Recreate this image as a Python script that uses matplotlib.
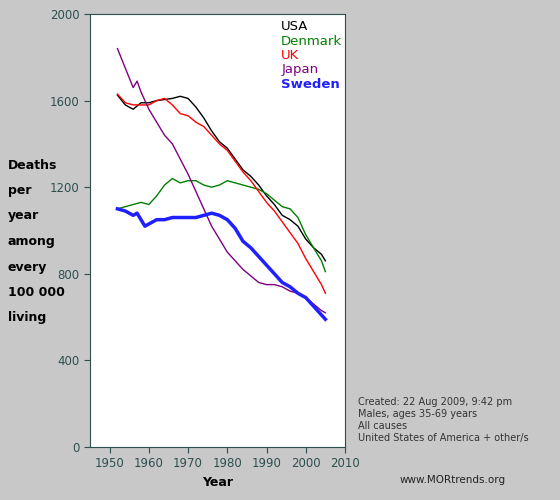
import matplotlib
matplotlib.use("Agg")
import matplotlib.pyplot as plt

years_a = [1952, 1954, 1956, 1958, 1960, 1962, 1964, 1966, 1968, 1970, 1972, 1974, 1976, 1978,
           1980, 1982, 1984, 1986, 1988, 1990, 1992, 1994, 1996, 1998, 2000, 2002, 2004, 2005]
usa = [1625, 1580, 1560, 1590, 1590, 1600, 1605, 1610, 1620, 1610, 1570, 1520, 1460, 1410,
       1380, 1330, 1280, 1250, 1210, 1160, 1120, 1070, 1050, 1020, 960, 920, 890, 860]
uk = [1630, 1590, 1580, 1580, 1580, 1600, 1610, 1580, 1540, 1530, 1500, 1480, 1440, 1400,
      1370, 1320, 1270, 1230, 1180, 1130, 1090, 1040, 990, 940, 870, 810, 750, 710]
denmark = [1100, 1110, 1120, 1130, 1120, 1160, 1210, 1240, 1220, 1230, 1230, 1210, 1200, 1210,
           1230, 1220, 1210, 1200, 1190, 1170, 1140, 1110, 1100, 1060, 980, 920, 860, 810]

years_b = [1952, 1954, 1956, 1957, 1958, 1959, 1960, 1962, 1964, 1966, 1968, 1970, 1972, 1974,
           1976, 1978, 1980, 1982, 1984, 1986, 1988, 1990, 1992, 1994, 1996, 1998, 2000, 2002,
           2004, 2005]
japan = [1840, 1750, 1660, 1690, 1640, 1600, 1560, 1500, 1440, 1400, 1330, 1260, 1180, 1100,
         1020, 960, 900, 860, 820, 790, 760, 750, 750, 740, 720, 710, 690, 660, 630, 620]
sweden = [1100, 1090, 1070, 1080, 1050, 1020, 1030, 1050, 1050, 1060, 1060, 1060, 1060, 1070,
          1080, 1070, 1050, 1010, 950, 920, 880, 840, 800, 760, 740, 710, 690, 650, 610, 590]

bg = "#c8c8c8"
tick_col = "#2f4f4f"

fig = plt.figure(figsize=(5.6, 5.0), dpi=100, facecolor=bg)
ax = fig.add_axes([90 / 560, 1 - 447 / 500, 255 / 560, 433 / 500])
ax.set_facecolor("white")

ax.plot(years_a, usa, color="black", lw=1)
ax.plot(years_a, denmark, color="green", lw=1)
ax.plot(years_a, uk, color="red", lw=1)
ax.plot(years_b, japan, color="purple", lw=1)
ax.plot(years_b, sweden, color="#2020ff", lw=2.5)

ax.set_xlim(1945, 2010)
ax.set_ylim(0, 2000)
ax.set_xticks(range(1950, 2011, 10))
ax.set_yticks(range(0, 2001, 400))
ax.tick_params(colors=tick_col, labelsize=8.5, length=4)
for s in ax.spines.values():
    s.set_color(tick_col)
ax.set_xlabel("Year", fontsize=9, fontweight="bold")

# legend as coloured text
names = [("USA", "black", "normal"), ("Denmark", "green", "normal"), ("UK", "red", "normal"),
         ("Japan", "purple", "normal"), ("Sweden", "#2020ff", "bold")]
for i, (n, c, w) in enumerate(names):
    ax.text(0.75, 0.985 - i * 0.033, n, transform=ax.transAxes, color=c, fontsize=9.5,
            fontweight=w, va="top")

ylab = ["Deaths", "per", "year", "among", "every", "100 000", "living"]
for i, t in enumerate(ylab):
    fig.text(8 / 560, 1 - (165 + i * 25.5) / 500, t, fontsize=9, fontweight="bold", va="center")

fig.text(358 / 560, 1 - 397 / 500,
         "Created: 22 Aug 2009, 9:42 pm\nMales, ages 35-69 years\nAll causes\nUnited States of America + other/s",
         fontsize=7, color="#333333", va="top", linespacing=1.25)
fig.text(400 / 560, 1 - 480 / 500, "www.MORtrends.org", fontsize=7.5, color="#222222", va="center")

fig.savefig("out.png", dpi=100, facecolor=bg)
